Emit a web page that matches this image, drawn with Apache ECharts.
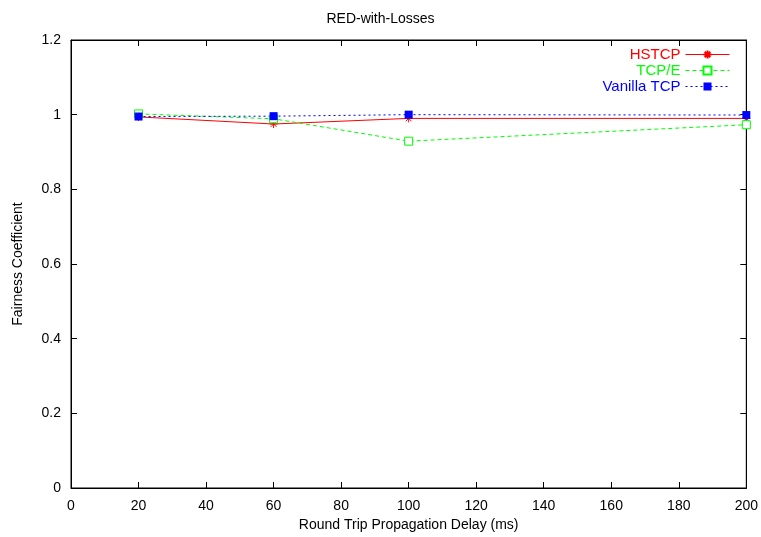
<!DOCTYPE html>
<html><head><meta charset="utf-8">
<script src="https://cdn.jsdelivr.net/npm/echarts@6/dist/echarts.min.js"></script>
<style>html,body{margin:0;padding:0;background:#fff}#c{width:761px;height:537px}</style>
</head><body><div id="c"></div>
<script>
const delays = [20, 60, 100, 200];
const hstcp = [0.994, 0.975, 0.990, 0.990];
const tcpe = [1.002, 0.989, 0.929, 0.973];
const vanilla = [0.995, 0.996, 1.000, 0.999];
const seriesNames = ['HSTCP', 'TCP/E', 'Vanilla TCP'];
const seriesColors = ['#ff0000', '#00ff00', '#0000ff'];
const seriesDash = ['solid', [4, 3], [2, 3]];

const F = 'Liberation Sans, Arial, Helvetica, sans-serif';
const pair = ys => delays.map((x, i) => [x, ys[i]]);
const star = 'path://M0,5L10,5M5,0L5,10M1.5,1.5L8.5,8.5M8.5,1.5L1.5,8.5';

const chart = echarts.init(document.getElementById('c'), null, {renderer: 'canvas'});
const baseAxisCommon = {
  axisLine: {show: true, onZero: false, lineStyle: {color: '#000', width: 1}},
  axisTick: {show: true, inside: true, length: 6, lineStyle: {color: '#000'}},
  splitLine: {show: false}
};
chart.setOption({
  animation: false,
  backgroundColor: '#fff',
  title: {text: 'RED-with-Losses', left: 'center', top: 7,
    textStyle: {fontFamily: F, fontSize: 14, fontWeight: 'normal', color: '#000'}},
  grid: {left: 71, right: 14, top: 40, bottom: 49, show: true, borderColor: '#000', borderWidth: 1},
  legend: {
    orient: 'vertical', right: 31, top: 47, align: 'right', padding: 0,
    itemWidth: 44, itemHeight: 10, itemGap: 1, itemTextGap: 9,
    textStyle: {fontFamily: F, fontSize: 15},
    data: seriesNames.map((n, i) => ({name: n, textStyle: {color: seriesColors[i]},
      lineStyle: {color: seriesColors[i], width: 1, type: seriesDash[i]}}))
  },
  xAxis: [
    Object.assign({type: 'value', min: 0, max: 200, interval: 20,
      name: 'Round Trip Propagation Delay (ms)', nameLocation: 'middle', nameGap: 30,
      nameTextStyle: {fontFamily: F, fontSize: 14, color: '#000'},
      axisLabel: {fontFamily: F, fontSize: 14, color: '#000', margin: 11}}, baseAxisCommon),
    Object.assign({type: 'value', min: 0, max: 200, interval: 20, position: 'top',
      axisLabel: {show: false}}, baseAxisCommon)
  ],
  yAxis: [
    Object.assign({type: 'value', min: 0, max: 1.2, interval: 0.2,
      name: 'Fairness Coefficient', nameLocation: 'middle', nameGap: 46, nameRotate: 90,
      nameTextStyle: {fontFamily: F, fontSize: 14, color: '#000'},
      axisLabel: {fontFamily: F, fontSize: 14, color: '#000', margin: 10,
        formatter: v => String(Math.round(v * 10) / 10)}}, baseAxisCommon),
    Object.assign({type: 'value', min: 0, max: 1.2, interval: 0.2, position: 'right',
      axisLabel: {show: false}}, baseAxisCommon)
  ],
  series: [
    {name: seriesNames[0], type: 'line', data: pair(hstcp), symbol: star, symbolSize: 8,
      lineStyle: {color: seriesColors[0], width: 1, type: seriesDash[0]},
      itemStyle: {color: 'rgba(0,0,0,0)', borderColor: seriesColors[0], borderWidth: 1}},
    {name: seriesNames[1], type: 'line', data: pair(tcpe), symbol: 'rect', symbolSize: 8,
      lineStyle: {color: seriesColors[1], width: 1, type: seriesDash[1]},
      itemStyle: {color: '#fff', borderColor: seriesColors[1], borderWidth: 1}},
    {name: seriesNames[2], type: 'line', data: pair(vanilla), symbol: 'rect', symbolSize: 8,
      lineStyle: {color: seriesColors[2], width: 1, type: seriesDash[2]},
      itemStyle: {color: seriesColors[2], borderColor: seriesColors[2], borderWidth: 0}}
  ]
});
</script></body></html>
